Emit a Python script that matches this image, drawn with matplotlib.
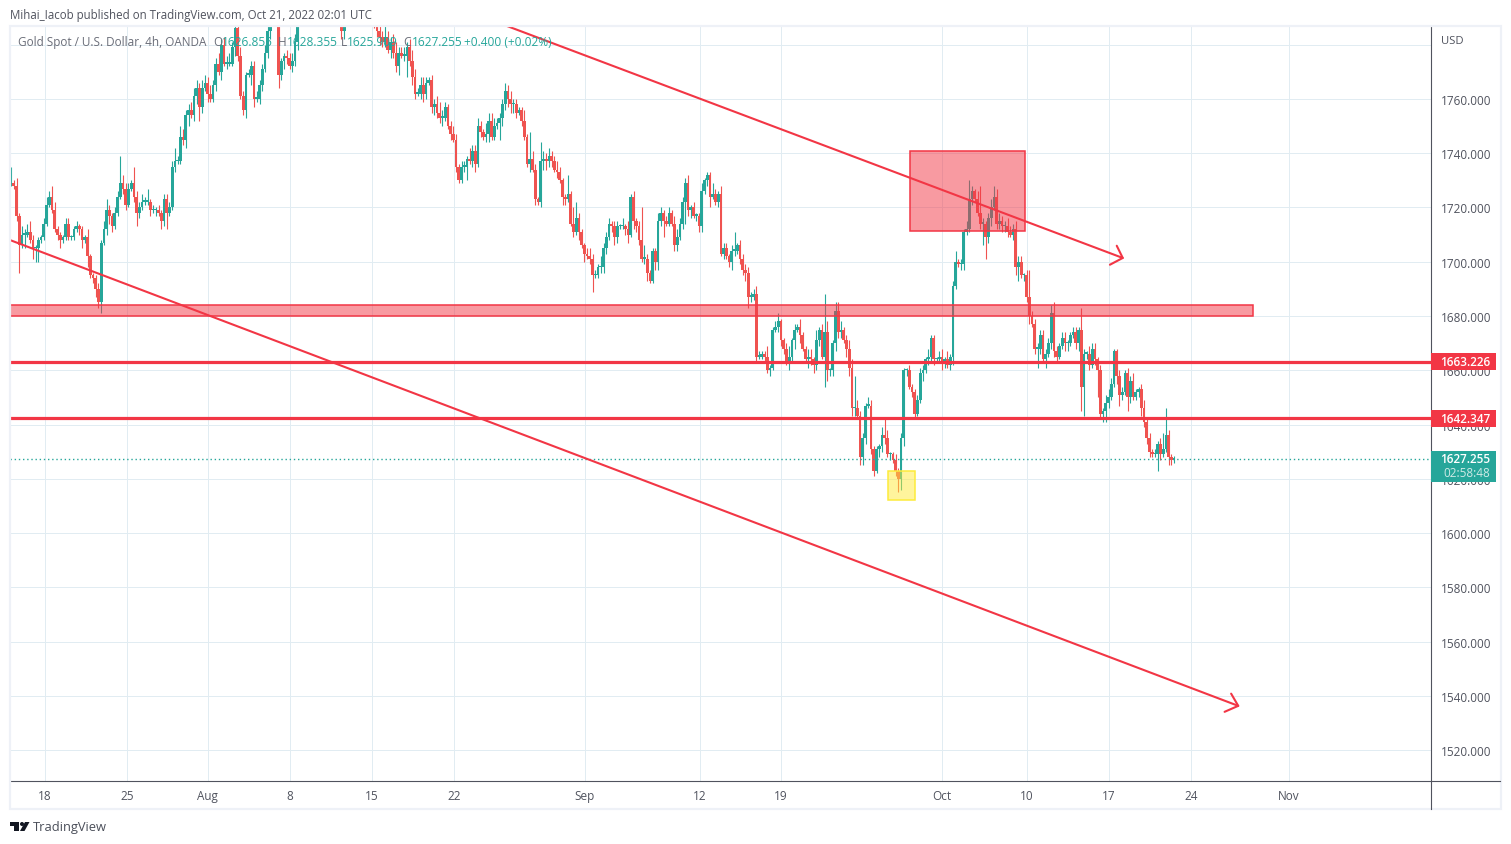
import matplotlib
matplotlib.use("Agg")
import matplotlib.pyplot as plt
from matplotlib.patches import Rectangle, Polygon, Circle
from matplotlib.transforms import blended_transform_factory

plt.rcParams['font.family'] = ['Open Sans', 'DejaVu Sans']

# ---------- data ----------
closes = [
 1729,1728,1717,1706,1710,1710,1711,1708,1705,1705,
 1708,1709,1714,1721,1724,1719,1712,1710,1708,1709,
 1714,1709,1709,1712,1713,1712,1708,1709,1702,1695,
 1694,1690,1685,1707,1712,1719,1717,1713,1718,1724,
 1729,1727,1721,1727,1729,1724,1718,1720,1722,1722,
 1722,1719,1719,1719,1718,1715,1723,1718,1720,1735,
 1737,1737,1746,1745,1754,1756,1754,1761,1764,1757,
 1764,1766,1762,
 1760,1765,1773,1770,1780,1773,1773,1773,1779,1786,
 1776,1761,1756,1769,1769,1772,1760,1760,1765,1771,
 1777,1785,1796,1800,1798,1769,1774,1776,1775,1772,
 1774,1781,1790,1795,1800,1798,1802,1806,1803,1805,
 1801,1804,1800,1798,1802,1797,1794,1792,1785,1790,
 1796,1795,1798,1800,1797,1799,1796,1800,1797,1795,
 1789,1785,1783,1781,1783,1778,1781,1777,1772,1777,
 1776,1776,1779,1774,1768,1762,1762,1765,1762,1766,
 1767,1757,1758,1755,1753,1753,1757,1750,1747,1745,
 1735,1730,1735,1735,1738,1737,1741,1736,1750,1748,
 1746,1747,1752,1746,1750,1751,1753,1758,1763,1760,
 1758,1758,1755,1756,1752,1746,1736,1738,1734,1723,
 1722,1737,1738,1737,1739,1737,1734,1733,1730,1724,
 1723,1725,1714,1711,1716,1711,1706,1703,
 1702,1701,1695,1695,1698,1698,1705,1709,1714,1713,
 1709,1713,1713,1713,1712,1710,1724,1715,1713,1708,
 1701,1701,1696,1693,1704,1700,1715,1718,1715,1714,
 1718,1714,1706,1709,1714,1722,1729,1719,1720,1717,
 1717,1713,
 1726,1730,1732,1724,1725,1722,1725,1703,1705,1702,
 1700,1704,1704,1706,1701,1697,1696,1687,1687,1688,
 1665,1665,1666,1665,1660,1661,1675,1676,1678,1671,
 1668,1663,1665,1671,1675,1676,1673,1668,
 1664,1665,1664,1662,1671,1675,1665,1674,1660,1660,
 1670,1682,1674,1675,1671,1668,1661,1646,1646,1643,
 1628,1635,1647,1647,1631,1623,1631,1632,1636,1635,
 1629,1629,1627,1623,1620,1635,1660,1660,1654,1652,
 1644,1649,1659,1660,1664,1665,1672,1664,1664,1665,
 1663,1664,1662,1665,1691,1700,1699,1699,1711,1712,
 1723,1726,1723,1718,1714,1714,1709,1716,1720,1724,
 1714,1715,1713,1713,1711,1710,1712,1698,1700,1695,
 1695,
 1687,1680,1677,1668,1668,1673,1664,1666,1670,1681,
 1667,1665,1669,1672,1670,1670,1673,1674,1670,1675,
 1654,1666,1666,1662,1668,1664,1660,1644,1645,1648,1650,
 1655,1667,1658,1651,1652,1659,1650,1656,1650,1652,
 1653,1646,1641,1635,1630,1629,1629,1633,1629,1631,
 1636,1628,1627,1627.255,
]
wick_up = [
 6,1,3,1,3,2,3,4,2,1, 1,1,2,3,2,4,3,1,1,1, 2,2,1,1,2,1,1,1,3,1, 1,1,2,1,3,4,2,1,2,2,
 10,3,2,2,1,6,2,2,3,2, 5,1,2,1,2,1,2,2,2,2, 5,2,4,3,2,2,3,3,3,2, 3,3,2,3,2,2,4,2,3,3,
 4,2,3,4,3,2,1,2,2,2, 3,2,2,3,4,3,3,3,2,1, 1,2,2,3,3,3,3,3,3,3, 3,3,3,3,3,3,3,3,3,3,
 3,3,3,3,3,3,3,3,3,3, 3,3,3,3,3,2,2,4,2,2, 3,4,2,2,3,2,3,4,3,2, 3,3,2,1,2,2,3,4,3,2,
 1,2,3,2,1,2,2,1,4,2, 2,3,2,1,4,3,3,3,2,2, 2,3,2,3,2,2,1,1,4,1, 10,3,2,1,7,3,2,3,2,2,
 3,2,1,1,7,1,6,6,2,1, 1,2,3,2,2,1,4,2,2,2, 1,2,2,1,3,1,3,1,2,1, 2,12,5,2,1,1,1,3,2,1,
 2,2,1,3,3,2,2,2,3,1, 2,1,1,3,1,1,1,4,2,1, 3,2,2,1,2,7,1,2,2,2, 2,2,2,3,2,1,1,4,1,1,
 2,3,1,1,2,4,1,2,1, 3,1,1,3,3,1,4,1,2, 14,4,1,1,3,3,3,1,2,3, 3,12,3,2,2,1,3,2,1,1,
 1,3,6,3,1,1,2,1,2,1, 1,2,1,1,2,2,2,1,3,1, 1,1,2,3,1,3,1,2,4,1,2, 1,3,7,2,1,3,10,2,1,2,
 3,4,3,3,2,2,3,2,2,3, 2,2,1,2,10,2,2,2,2,2, 2,2,3,4,2,1,2,2,1,1, 2,2,1,8,2,1,3,2,2,1,2,
 1,3,3,2,1,1,2,2,1,2, 2,3,1,1,2,3,1,2,1,2, 1,2,6,10,2,1,1,
]
wick_down = [
 1,1,2,10,1,5,1,1,4,5, 5,1,1,1,1,1,1,2,3,1, 1,1,1,1,1,2,3,1,4,1, 2,3,2,4,1,2,3,2,1,1,
 1,2,2,1,1,2,5,2,1,1, 1,2,1,2,1,3,2,6,1,1, 2,1,1,2,3,4,1,2,3,5, 2,1,3,1,1,2,1,3,1,2,
 1,1,3,2,1,2,3,1,4,3, 1,2,2,1,2,3,4,2,5,2, 3,2,1,2,2,3,3,3,3,2, 2,3,2,3,3,2,2,1,3,6,
 2,3,3,3,2,3,3,2,2,3, 3,2,8,3,2,3,2,2,1,3, 2,2,3,1,2,8,2,3,2,1, 2,3,2,1,2,3,2,2,3,1,
 1,2,1,2,1,1,2,5,1,2, 3,1,2,1,2,3,1,1,1,6, 3,2,3,3,3,2,1,2,1,1, 3,1,2,1,2,3,3,2,2,1,
 2,1,3,2,1,1,2,1,3,1, 3,1,2,6,1,1,2,2,2,1, 2,3,2,1,1,2,3,1,3,2, 2,1,2,3,1,1,3,3,2,6,
 1,1,1,2,2,1,2,8,2,3, 1,2,2,2,1,2,4,1,1,2, 1,2,1,2,3,2,1,2,2,3, 4,2,1,2,1,1,2,1,2,1,
 1,2,2,2,1,3,2,3,1, 3,1,1,3,2,3,2,2,1, 11,4,2,2,3,2,2,1,3,3, 3,3,1,3,3,2,1,2,2,1,
 3,2,2,1,2,1,2,5,4,3, 2,1,2,2,1,1,3,1,2,2, 2,1,1,3,2,1,2,3,1,1,2, 2,1,1,2,1,1,2,8,8,2,
 3,1,2,2,2,2,2,1,2,3, 5,1,2,2,3,1,2,7,2,1, 3,1,2,2,2,1,1,3,3,1, 1,2,3,9,11,2,2,1,2,10,2,
 3,4,2,1,1,3,4,2,1,5, 2,1,1,2,3,2,2,2,1,1, 6,2,1,1,3,2,1,
]
x_tick_pos = [12.8, 42.9, 72.5, 102.6, 132.6, 162.6, 210.6, 252.7, 282.4, 341.4, 372.5, 402.6, 432.6, 468.5]
x_tick_lab = ['18', '25', 'Aug', '8', '15', '22', 'Sep', '12', '19', 'Oct', '10', '17', '24', 'Nov']
y_ticks = [1520, 1540, 1560, 1580, 1600, 1620, 1640, 1660, 1680, 1700, 1720, 1740, 1760, 1780]
level_a = 1663.226
level_b = 1642.347
last_price = 1627.255
upper_trend = ([182.05, 407.6], [1786.9, 1701.4])
upper_head = ([405.4, 407.6, 402.9], [1705.9, 1701.4, 1698.9])
lower_trend = ([0, 449.9], [1708, 1536.3])
lower_head = ([447.3, 449.9, 444.9], [1540.8, 1536.3, 1534.1])
band_zone = (0, 455.3, 1680.0, 1684.1)
top_zone = (329.7, 371.8, 1711.3, 1740.8)
low_zone = (321.6, 331.5, 1612.2, 1622.9)

RED = '#ef5350'; TEAL = '#26a69a'; LINE = '#f23645'; GRID = '#e1ecf2'; TXT = '#50535e'
W, H = 1511, 845
fig = plt.figure(figsize=(W / 100, H / 100), dpi=100, facecolor='white')
ax = fig.add_axes([10 / W, 1 - 782 / H, 1421 / W, 755 / H])
ax.set_xlim(0, 1421 / 2.73)
ax.set_ylim(1508.6, 1786.9)
ax.set_xticks(x_tick_pos); ax.set_xticklabels(x_tick_lab)
ax.set_yticks(y_ticks)
ax.set_yticklabels([('' if v == 1780 else f'{v}.000') for v in y_ticks])
ax.yaxis.tick_right()
ax.tick_params(length=0, labelsize=8.5, labelcolor=TXT)
ax.tick_params(axis='y', pad=7)
ax.tick_params(axis='x', pad=6)
ax.grid(True, color=GRID, lw=0.72)
ax.set_axisbelow(True)
for s in ('top', 'left'):
    ax.spines[s].set_visible(False)
for s in ('right', 'bottom'):
    ax.spines[s].set_color('#50535e'); ax.spines[s].set_linewidth(0.8)

opens = [closes[0]] + closes[:-1]
for i, (o, c, u, d) in enumerate(zip(opens, closes, wick_up, wick_down)):
    col = TEAL if c >= o else RED
    top, bot = max(o, c), min(o, c)
    ax.vlines(i + 0.4, bot - d, top + u, color=col, lw=0.8, zorder=2)
    ax.bar(i + 0.4, max(top - bot, 0.6), bottom=bot, width=1.0, color=col, lw=0, zorder=2.2)

ax.axhline(last_price, color=TEAL, lw=1.0, ls=(0, (1, 2)), zorder=3)
def zone(z, fc, ec, lw=1.1):
    ax.add_patch(Rectangle((z[0], z[2]), z[1] - z[0], z[3] - z[2], fc=fc, ec=ec, lw=lw, zorder=4))
zone(band_zone, (0.949, 0.212, 0.271, 0.5), LINE)
zone(top_zone, (0.949, 0.212, 0.271, 0.5), LINE)
zone(low_zone, (1, 0.922, 0.231, 0.5), '#fdeb3b')
ax.axhline(level_a, color=LINE, lw=2.3, zorder=5)
ax.axhline(level_b, color=LINE, lw=2.3, zorder=5)
for xs, ys in (upper_trend, upper_head, lower_trend, lower_head):
    ax.plot(xs, ys, color=LINE, lw=1.5, zorder=5, solid_capstyle='round')

# price tags on the scale
bt = blended_transform_factory(ax.transAxes, ax.transData)
tag_w = 65 / 1421
def tag(price_lo, price_hi, col):
    ax.add_patch(Rectangle((1, price_lo), tag_w, price_hi - price_lo, fc=col, ec='none',
                           transform=bt, clip_on=False, zorder=6))
tag(level_a - 3.1, level_a + 3.1, LINE)
tag(level_b - 3.1, level_b + 3.1, LINE)
tag(last_price - 8.3, last_price + 3.1, TEAL)
tx = 1 + 59 / 1421
for p, s, c in ((level_a, f'{level_a:.3f}', 'white'), (level_b, f'{level_b:.3f}', 'white'),
                (last_price + 0.2, f'{last_price:.3f}', 'white'), (last_price - 5.0, '02:58:48', '#cfeae6')):
    ax.text(tx, p, s, transform=bt, color=c, fontsize=8.5, ha='right', va='center', zorder=7,
            clip_on=False, fontweight='semibold' if c == 'white' else 'normal')

# page furniture, in pixel coordinates
ch = fig.add_axes([0, 0, 1, 1], facecolor='none')
ch.set_xlim(0, W); ch.set_ylim(H, 0); ch.axis('off')
ch.add_patch(Rectangle((9.5, 26.5), 1491.5, 783.5, fc='none', ec='#eef1f7', lw=1.6))
ch.plot([1431, 1431], [782, 810], color='#50535e', lw=0.8)
ch.plot([1431, 1500], [782, 782], color='#50535e', lw=0.8)
ch.text(10, 16, 'Mihai_Iacob published on TradingView.com, Oct 21, 2022 02:01 UTC', fontsize=8.3,
        color='#50535e', va='center')
ch.text(1441, 41.5, 'USD', fontsize=8.1, color=TXT, va='center')
y0 = 42.5
ch.text(18, y0, 'Gold Spot / U.S. Dollar, 4h, OANDA', fontsize=8.45, color='#6a6d78', va='center')
for x0, lab, val in ((213, 'O', '1626.855'), (278, 'H', '1628.355'), (341, 'L', '1625.909'), (403, 'C', '1627.255')):
    ch.text(x0, y0, lab, fontsize=8.6, color='#6a6d78', va='center')
    ch.text(x0 + (9 if lab != 'L' else 6), y0, val, fontsize=8.6, color=TEAL, va='center')
ch.text(464, y0, '+0.400 (+0.02%)', fontsize=8.6, color=TEAL, va='center')
# logo
logo = '#131722'
ch.add_patch(Polygon([(10, 823), (19, 823), (19, 832), (14, 832), (14, 827), (10, 827)], fc=logo, ec='none'))
ch.add_patch(Circle((22, 825), 2.0, fc=logo, ec='none'))
ch.add_patch(Polygon([(25, 823), (29.5, 823), (24.5, 832), (20, 832)], fc=logo, ec='none'))
ch.text(33, 828, 'TradingView', fontsize=9.3, color='#4a4e59', va='center')

fig.savefig('out.png', dpi=100, facecolor='white')
